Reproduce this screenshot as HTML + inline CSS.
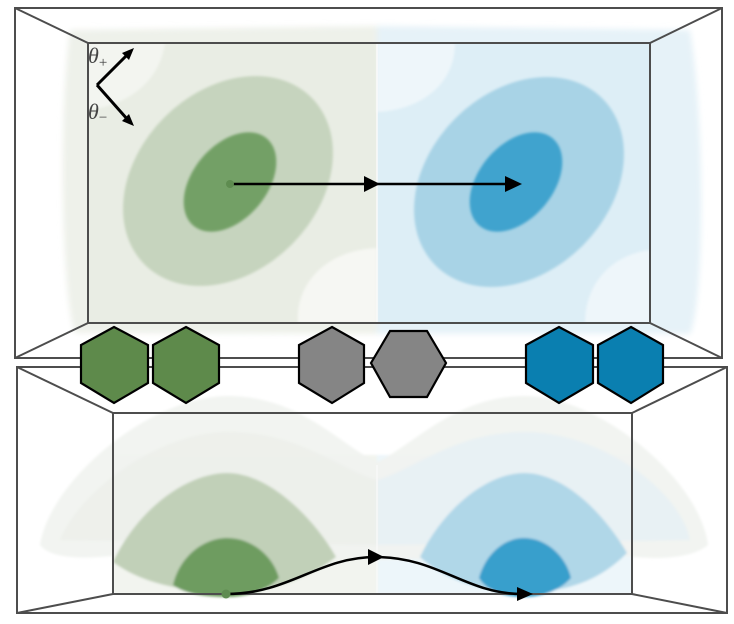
<!DOCTYPE html>
<html><head><meta charset="utf-8"><style>
html,body{margin:0;padding:0;background:#fff;}
svg{display:block;}
</style></head><body>
<svg width="734" height="624" viewBox="0 0 734 624" xmlns="http://www.w3.org/2000/svg">
<defs>
<filter id="bl" x="-20%" y="-20%" width="140%" height="140%"><feGaussianBlur stdDeviation="1.2"/></filter>
<filter id="bl2" x="-20%" y="-20%" width="140%" height="140%"><feGaussianBlur stdDeviation="3"/></filter>
</defs>
<rect width="734" height="624" fill="#fff"/>

<!-- ===== TOP BOX background tints ===== -->
<g filter="url(#bl2)">
<path d="M70,30 L377,26 L377,334 L75,333 C62,300 58,120 70,30 Z" fill="#eef1ea"/>
<path d="M377,26 L690,30 C705,120 705,300 690,334 L377,334 Z" fill="#e6f2f8"/>
</g>
<rect x="88" y="43" width="289" height="280" fill="#e9ede4"/>
<rect x="377" y="43" width="273" height="280" fill="#ddeef6"/>
<!-- light blobs -->
<g filter="url(#bl)">
<path d="M88,43 L165,43 C160,80 130,105 88,110 Z" fill="#f3f5f0"/>
<path d="M377,43 L455,43 C455,85 420,110 377,112 Z" fill="#eef6fa"/>
<path d="M377,323 L298,323 C295,285 325,250 377,248 Z" fill="#f6f7f3"/>
<path d="M650,323 L585,323 C585,285 610,255 650,250 Z" fill="#eef6fa"/>
</g>
<line x1="377" y1="43" x2="377" y2="323" stroke="#fafafa" stroke-width="1.5"/>

<!-- green contours -->
<ellipse cx="228" cy="181" rx="118" ry="90" transform="rotate(-45 228 181)" fill="#c6d4be" filter="url(#bl)"/>
<ellipse cx="230" cy="182" rx="57" ry="37" transform="rotate(-50 230 182)" fill="#73a066" filter="url(#bl)"/>
<!-- blue contours -->
<ellipse cx="519" cy="182" rx="118" ry="90" transform="rotate(-45 519 182)" fill="#a8d3e6" filter="url(#bl)"/>
<ellipse cx="516" cy="182" rx="57" ry="37" transform="rotate(-50 516 182)" fill="#3fa3ce" filter="url(#bl)"/>

<!-- top box lines -->
<g stroke="#4d4d4d" stroke-width="2" fill="none">
<rect x="15" y="8" width="707" height="350"/>
<rect x="88" y="43" width="562" height="280"/>
<line x1="15" y1="8" x2="88" y2="43"/>
<line x1="722" y1="8" x2="650" y2="43"/>
<line x1="15" y1="358" x2="88" y2="323"/>
<line x1="722" y1="358" x2="650" y2="323"/>
</g>

<!-- theta axes -->
<g stroke="#000" stroke-width="3" fill="none">
<line x1="97" y1="85" x2="128" y2="54"/>
<line x1="97" y1="85" x2="128" y2="120"/>
</g>
<polygon points="134,48 122,53 129,60" fill="#000"/>
<polygon points="134,126 129,114 122,121" fill="#000"/>
<text x="88" y="63" font-family="Liberation Serif, serif" font-style="italic" font-size="22" fill="#444">θ<tspan font-size="15" dy="4" font-style="normal">+</tspan></text>
<text x="88" y="119" font-family="Liberation Serif, serif" font-style="italic" font-size="22" fill="#444">θ<tspan font-size="15" dy="3" font-style="normal">−</tspan></text>

<!-- top arrow -->
<line x1="230" y1="184" x2="510" y2="184" stroke="#000" stroke-width="2.5"/>
<polygon points="364,176 380,184 364,192" fill="#000"/>
<polygon points="505,176 522,184 505,192" fill="#000"/>
<circle cx="230" cy="184" r="4" fill="#5e8c50"/>

<!-- ===== BOTTOM BOX ===== -->
<g filter="url(#bl)">
<rect x="113" y="455" width="264" height="139" fill="#f2f4ef"/>
<rect x="377" y="455" width="255" height="139" fill="#edf6fa"/>
<!-- faint wave layers -->
<path d="M40,545 C50,480 150,396 228,396 C300,396 340,445 377,462 C414,445 455,396 525,396 C600,396 700,480 708,545 C690,560 650,560 620,555 L377,560 L120,555 C80,560 50,558 40,545 Z" fill="#f1f3ef" opacity="0.9"/>
<path d="M60,540 C80,490 160,432 228,432 C300,432 340,470 377,480 C414,470 455,432 525,432 C600,432 680,490 690,540 L377,545 Z" fill="#ecefea" opacity="0.8"/>
<path d="M377,480 C414,470 455,432 525,432 C600,432 680,490 690,540 L377,545 Z" fill="#e6f1f6" opacity="0.8"/>
<!-- middle layers -->
<path d="M113,562 C140,505 190,473 227,473 C270,473 315,520 336,557 C300,585 260,592 227,592 C180,592 140,582 113,562 Z" fill="#c1d0b8"/>
<path d="M420,557 C445,505 490,473 524,473 C565,473 605,515 627,553 C595,585 560,592 524,592 C480,592 445,580 420,557 Z" fill="#b0d7e8"/>
<!-- inner layers -->
<path d="M173,585 C180,555 205,538 227,538 C252,538 273,556 279,578 C265,592 245,597 227,597 C205,597 185,594 173,585 Z" fill="#6e9c61"/>
<path d="M479,578 C486,553 505,538 524,538 C546,538 566,556 571,578 C558,592 540,597 524,597 C505,597 488,592 479,578 Z" fill="#389fcc"/>
</g>
<line x1="377" y1="465" x2="377" y2="594" stroke="#fafafa" stroke-width="1.2"/>

<g stroke="#4d4d4d" stroke-width="2" fill="none">
<rect x="17" y="367" width="710" height="246"/>
<rect x="113" y="413" width="519" height="181"/>
<line x1="17" y1="367" x2="113" y2="413"/>
<line x1="727" y1="367" x2="632" y2="413"/>
<line x1="17" y1="613" x2="113" y2="594"/>
<line x1="727" y1="613" x2="632" y2="594"/>
</g>

<!-- bottom curve -->
<path d="M226,594 C290,594 318,557 376,557 C438,557 466,594 522,594" stroke="#000" stroke-width="2.5" fill="none"/>
<polygon points="368,549 384,557 368,565" fill="#000"/>
<polygon points="517,587 533,594 517,601" fill="#000"/>
<circle cx="226" cy="594" r="4.5" fill="#5e8c50"/>

<!-- ===== HEXAGONS ===== -->
<g stroke="#000" stroke-width="2.2" stroke-linejoin="miter">
<polygon points="114,327 148,345 148,383 114,403 81,383 81,345" fill="#5e8a4b"/>
<polygon points="186,327 219,345 219,383 186,403 153,383 153,345" fill="#5e8a4b"/>
<polygon points="332,327 364,345 364,383 332,403 299,383 299,345" fill="#858585"/>
<polygon points="390,331 427,331 446,363 427,397 390,397 371,363" fill="#858585"/>
<polygon points="559,327 593,345 593,383 559,403 526,383 526,345" fill="#0a7fb0"/>
<polygon points="631,327 663,345 663,383 631,403 598,383 598,345" fill="#0a7fb0"/>
</g>
</svg>
</body></html>
